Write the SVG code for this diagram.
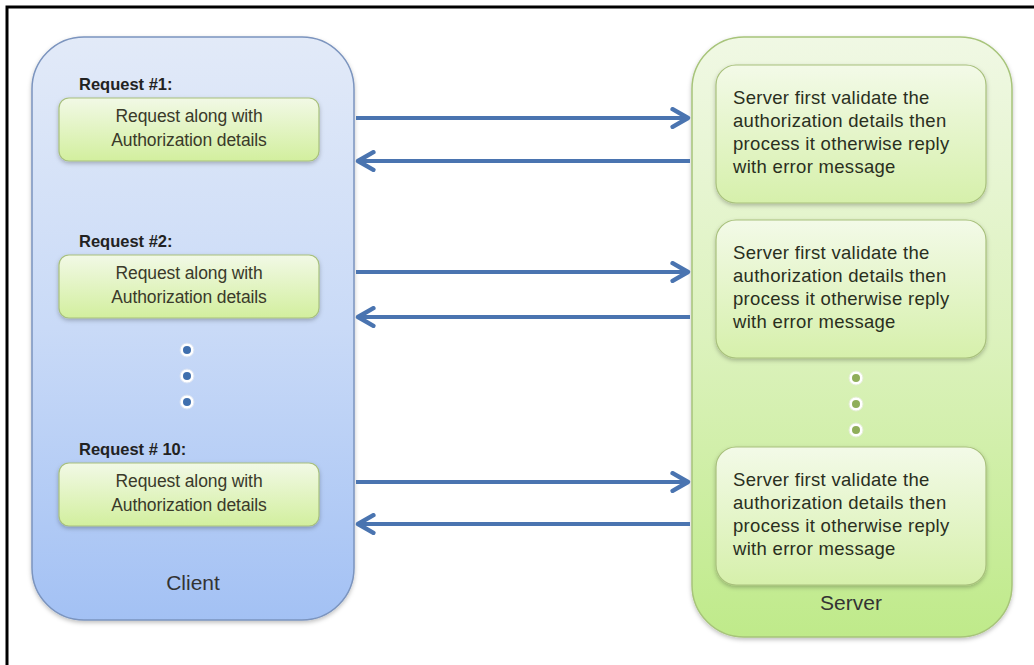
<svg xmlns="http://www.w3.org/2000/svg" width="1034" height="665" viewBox="0 0 1034 665">
<defs>
<linearGradient id="gClient" x1="0" y1="0" x2="0" y2="1">
<stop offset="0" stop-color="#e2eaf8"/>
<stop offset="0.5" stop-color="#c9daf7"/>
<stop offset="1" stop-color="#a3c1f4"/>
</linearGradient>
<linearGradient id="gServer" x1="0" y1="0" x2="0" y2="1">
<stop offset="0" stop-color="#f0f8e4"/>
<stop offset="0.5" stop-color="#dcf2bd"/>
<stop offset="1" stop-color="#bfea8a"/>
</linearGradient>
<linearGradient id="gInner" x1="0" y1="0" x2="0" y2="1">
<stop offset="0" stop-color="#f2f9e6"/>
<stop offset="1" stop-color="#d2ef9e"/>
</linearGradient>
<linearGradient id="gInnerS" x1="0" y1="0" x2="0" y2="1">
<stop offset="0" stop-color="#f3fae8"/>
<stop offset="1" stop-color="#d6f0ab"/>
</linearGradient>
<filter id="sh" x="-10%" y="-10%" width="120%" height="130%">
<feDropShadow dx="0" dy="2" stdDeviation="2" flood-color="#000" flood-opacity="0.25"/>
</filter>
<marker id="ah" viewBox="0 0 10 10" refX="8" refY="5" markerWidth="5.5" markerHeight="5.5" orient="auto-start-reverse" markerUnits="strokeWidth">
<path d="M1,1 L8,5 L1,9" fill="none" stroke="#4a74b0" stroke-width="2" stroke-linecap="round" stroke-linejoin="round"/>
</marker>
</defs>
<style>
.lbl{font-family:"Liberation Sans",Arial,sans-serif;font-size:16.5px;font-weight:bold;fill:#222;}
.txt{font-family:"Liberation Sans",Arial,sans-serif;font-size:17.5px;fill:#3a3a2a;letter-spacing:-0.1px;}
.stxt{font-family:"Liberation Sans",Arial,sans-serif;font-size:18.5px;fill:#2a2f1e;letter-spacing:0.3px;}
.big{font-family:"Liberation Sans",Arial,sans-serif;font-size:21px;fill:#333;}
.inner{fill:url(#gInner);stroke:#a8c07c;stroke-width:1.2;filter:url(#sh);}
.innerS{fill:url(#gInnerS);stroke:#a8c07c;stroke-width:1.2;filter:url(#sh);}
.conn{stroke:#4a74b0;stroke-width:4;fill:none;marker-end:url(#ah);}
.dotb{fill:#fff;stroke:#d8e2f3;stroke-width:1;}
</style>
<rect width="1034" height="665" fill="#fff"/>
<path d="M7,665 L7,7 L1034,7" fill="none" stroke="#000" stroke-width="3"/>

<g id="client">
<rect x="32" y="37" width="322" height="583" rx="52" fill="url(#gClient)" stroke="#7b94be" stroke-width="1.5" filter="url(#sh)"/>
<text class="big" x="193" y="590" text-anchor="middle">Client</text>
</g>

<g id="server">
<rect x="692" y="37" width="320" height="600" rx="52" fill="url(#gServer)" stroke="#a7c47a" stroke-width="1.5" filter="url(#sh)"/>
<text class="big" x="851" y="610" text-anchor="middle">Server</text>
</g>

<g id="req1">
<text class="lbl" x="79" y="90">Request #1:</text>
<rect class="inner" x="59" y="98" width="260" height="63" rx="10"/>
<text class="txt" x="189" y="122" text-anchor="middle">Request along with</text>
<text class="txt" x="189" y="146" text-anchor="middle">Authorization details</text>
</g>
<g id="req2">
<text class="lbl" x="79" y="247">Request #2:</text>
<rect class="inner" x="59" y="255" width="260" height="63" rx="10"/>
<text class="txt" x="189" y="279" text-anchor="middle">Request along with</text>
<text class="txt" x="189" y="303" text-anchor="middle">Authorization details</text>
</g>
<g id="req10">
<text class="lbl" x="79" y="455">Request # 10:</text>
<rect class="inner" x="59" y="463" width="260" height="63" rx="10"/>
<text class="txt" x="189" y="487" text-anchor="middle">Request along with</text>
<text class="txt" x="189" y="511" text-anchor="middle">Authorization details</text>
</g>

<g id="clientDots">
<circle class="dotb" cx="187" cy="350" r="7"/><circle cx="187" cy="350" r="4" fill="#3f6fae"/>
<circle class="dotb" cx="187" cy="376" r="7"/><circle cx="187" cy="376" r="4" fill="#3f6fae"/>
<circle class="dotb" cx="187" cy="402" r="7"/><circle cx="187" cy="402" r="4" fill="#3f6fae"/>
</g>

<g id="srv1">
<rect class="innerS" x="716" y="65" width="270" height="138" rx="20"/>
<text class="stxt" x="733" y="104">Server first validate the</text>
<text class="stxt" x="733" y="127">authorization details then</text>
<text class="stxt" x="733" y="150">process it otherwise reply</text>
<text class="stxt" x="733" y="173">with error message</text>
</g>
<g id="srv2">
<rect class="innerS" x="716" y="220" width="270" height="138" rx="20"/>
<text class="stxt" x="733" y="259">Server first validate the</text>
<text class="stxt" x="733" y="282">authorization details then</text>
<text class="stxt" x="733" y="305">process it otherwise reply</text>
<text class="stxt" x="733" y="328">with error message</text>
</g>
<g id="srv3">
<rect class="innerS" x="716" y="447" width="270" height="138" rx="20"/>
<text class="stxt" x="733" y="486">Server first validate the</text>
<text class="stxt" x="733" y="509">authorization details then</text>
<text class="stxt" x="733" y="532">process it otherwise reply</text>
<text class="stxt" x="733" y="555">with error message</text>
</g>

<g id="serverDots">
<circle cx="856" cy="378" r="7" fill="#fff" stroke="#e4eed4"/><circle cx="856" cy="378" r="4" fill="#8fae5a"/>
<circle cx="856" cy="404" r="7" fill="#fff" stroke="#e4eed4"/><circle cx="856" cy="404" r="4" fill="#8fae5a"/>
<circle cx="856" cy="430" r="7" fill="#fff" stroke="#e4eed4"/><circle cx="856" cy="430" r="4" fill="#8fae5a"/>
</g>

<g id="connectors">
<line class="conn" x1="356" y1="118" x2="688" y2="118"/>
<line class="conn" x1="690" y1="161" x2="358" y2="161"/>
<line class="conn" x1="356" y1="272" x2="688" y2="272"/>
<line class="conn" x1="690" y1="317" x2="358" y2="317"/>
<line class="conn" x1="356" y1="482" x2="688" y2="482"/>
<line class="conn" x1="690" y1="524" x2="358" y2="524"/>
</g>
</svg>
